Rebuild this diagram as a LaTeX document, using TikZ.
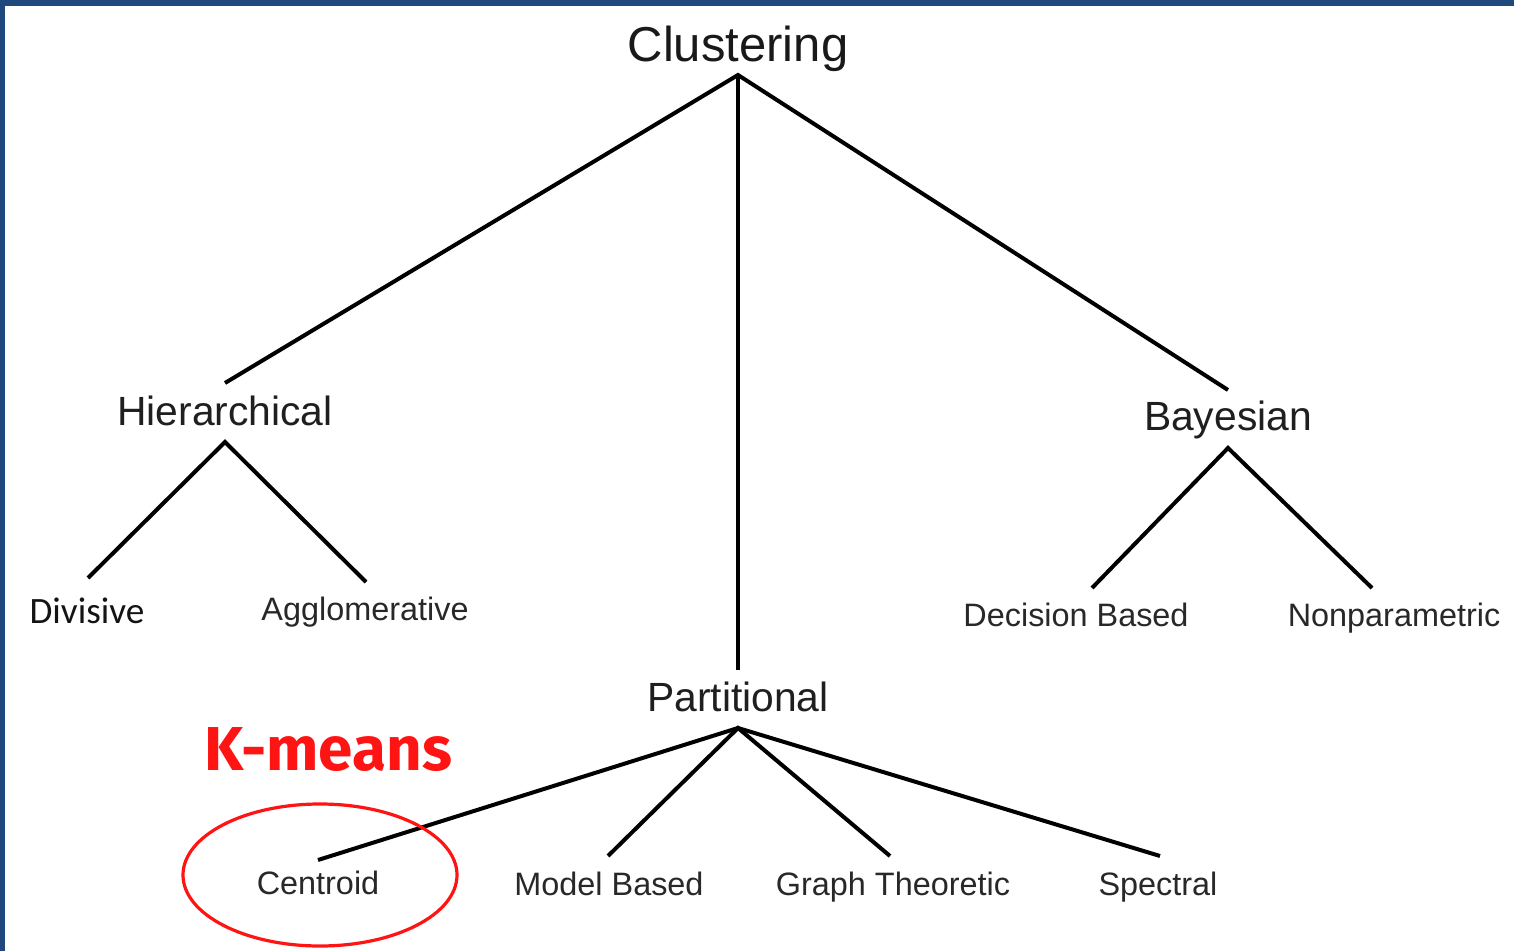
\documentclass[tikz,border=0pt]{standalone}
\usepackage{fontspec}
\setmainfont{Liberation Sans}
\newfontfamily\calfont{Carlito}
\newfontfamily\handfont{Fira Sans}[UprightFont=* Bold]
\definecolor{framebar}{RGB}{31,73,125}
\definecolor{labelgray}{RGB}{40,40,40}
\definecolor{markred}{RGB}{255,20,20}
\begin{document}
\begin{tikzpicture}[x=0.5pt,y=-0.5pt,
  edge/.style={line width=2pt,black},
  toplabel/.style={anchor=base,inner sep=0pt,text=black!90,font=\fontsize{24.5}{28}\selectfont},
  midlabel/.style={anchor=base,inner sep=0pt,text=black!88,font=\fontsize{20.4}{24}\selectfont},
  leaflabel/.style={anchor=base,inner sep=0pt,text=labelgray,font=\fontsize{16.2}{19}\selectfont}]
  % page and frame bars
  \fill[white] (0,0) rectangle (1514,951);
  \fill[framebar] (0,0) rectangle (1514,6);
  \fill[framebar] (0,0) rectangle (5,951);
  \useasboundingbox (0,0) rectangle (1514,951);

  % labels
  \node[toplabel] (clu) at (738,62) {Clustering};
  \node[midlabel] (hier) at (225,426) {Hierarchical};
  \node[midlabel] (bay) at (1228,431) {Bayesian};
  \node[midlabel] (part) at (738,711) {Partitional};
  \node[anchor=base,inner sep=0pt,text=black!92,font=\calfont\fontsize{18.6}{21}\selectfont] (div) at (87,623) {Divisive};
  \node[leaflabel] (agg) at (365,620) {Agglomerative};
  \node[leaflabel] (dec) at (1076,626) {Decision Based};
  \node[leaflabel] (nonp) at (1394,626) {Nonparametric};
  \node[leaflabel] (cen) at (318,894) {Centroid};
  \node[leaflabel] (mod) at (609,895) {Model Based};
  \node[leaflabel] (gra) at (893,895) {Graph Theoretic};
  \node[leaflabel] (spe) at (1158,895) {Spectral};

  % connector end points above and below the labels
  \coordinate (clu-foot) at (738,75);
  \coordinate (hier-head) at (225,383);
  \coordinate (hier-foot) at (225,442);
  \coordinate (bay-head) at (1228,390);
  \coordinate (bay-foot) at (1228,448);
  \coordinate (part-head) at (738,670);
  \coordinate (part-foot) at (738,728);
  \coordinate (div-head) at (88,578);
  \coordinate (agg-head) at (366,582);
  \coordinate (dec-head) at (1092,588);
  \coordinate (nonp-head) at (1372,588);
  \coordinate (cen-head) at (318,860);
  \coordinate (mod-head) at (608,856);
  \coordinate (gra-head) at (890,856);
  \coordinate (spe-head) at (1160,856);

  % tree edges
  \draw[edge] (hier-head) -- (clu-foot) -- (bay-head);
  \draw[edge] (clu-foot) -- (part-head);
  \draw[edge] (div-head) -- (hier-foot) -- (agg-head);
  \draw[edge] (dec-head) -- (bay-foot) -- (nonp-head);
  \draw[edge] (cen-head) -- (part-foot) -- (spe-head);
  \draw[edge] (mod-head) -- (part-foot) -- (gra-head);

  % highlight
  \draw[markred,line width=1.6pt] (320,875) ellipse [x radius=137, y radius=71];
  \node[anchor=base,inner sep=0pt,text=markred,font=\handfont\fontsize{31}{36}\selectfont] (km) at (328,770) {K-means};
\end{tikzpicture}
\end{document}
